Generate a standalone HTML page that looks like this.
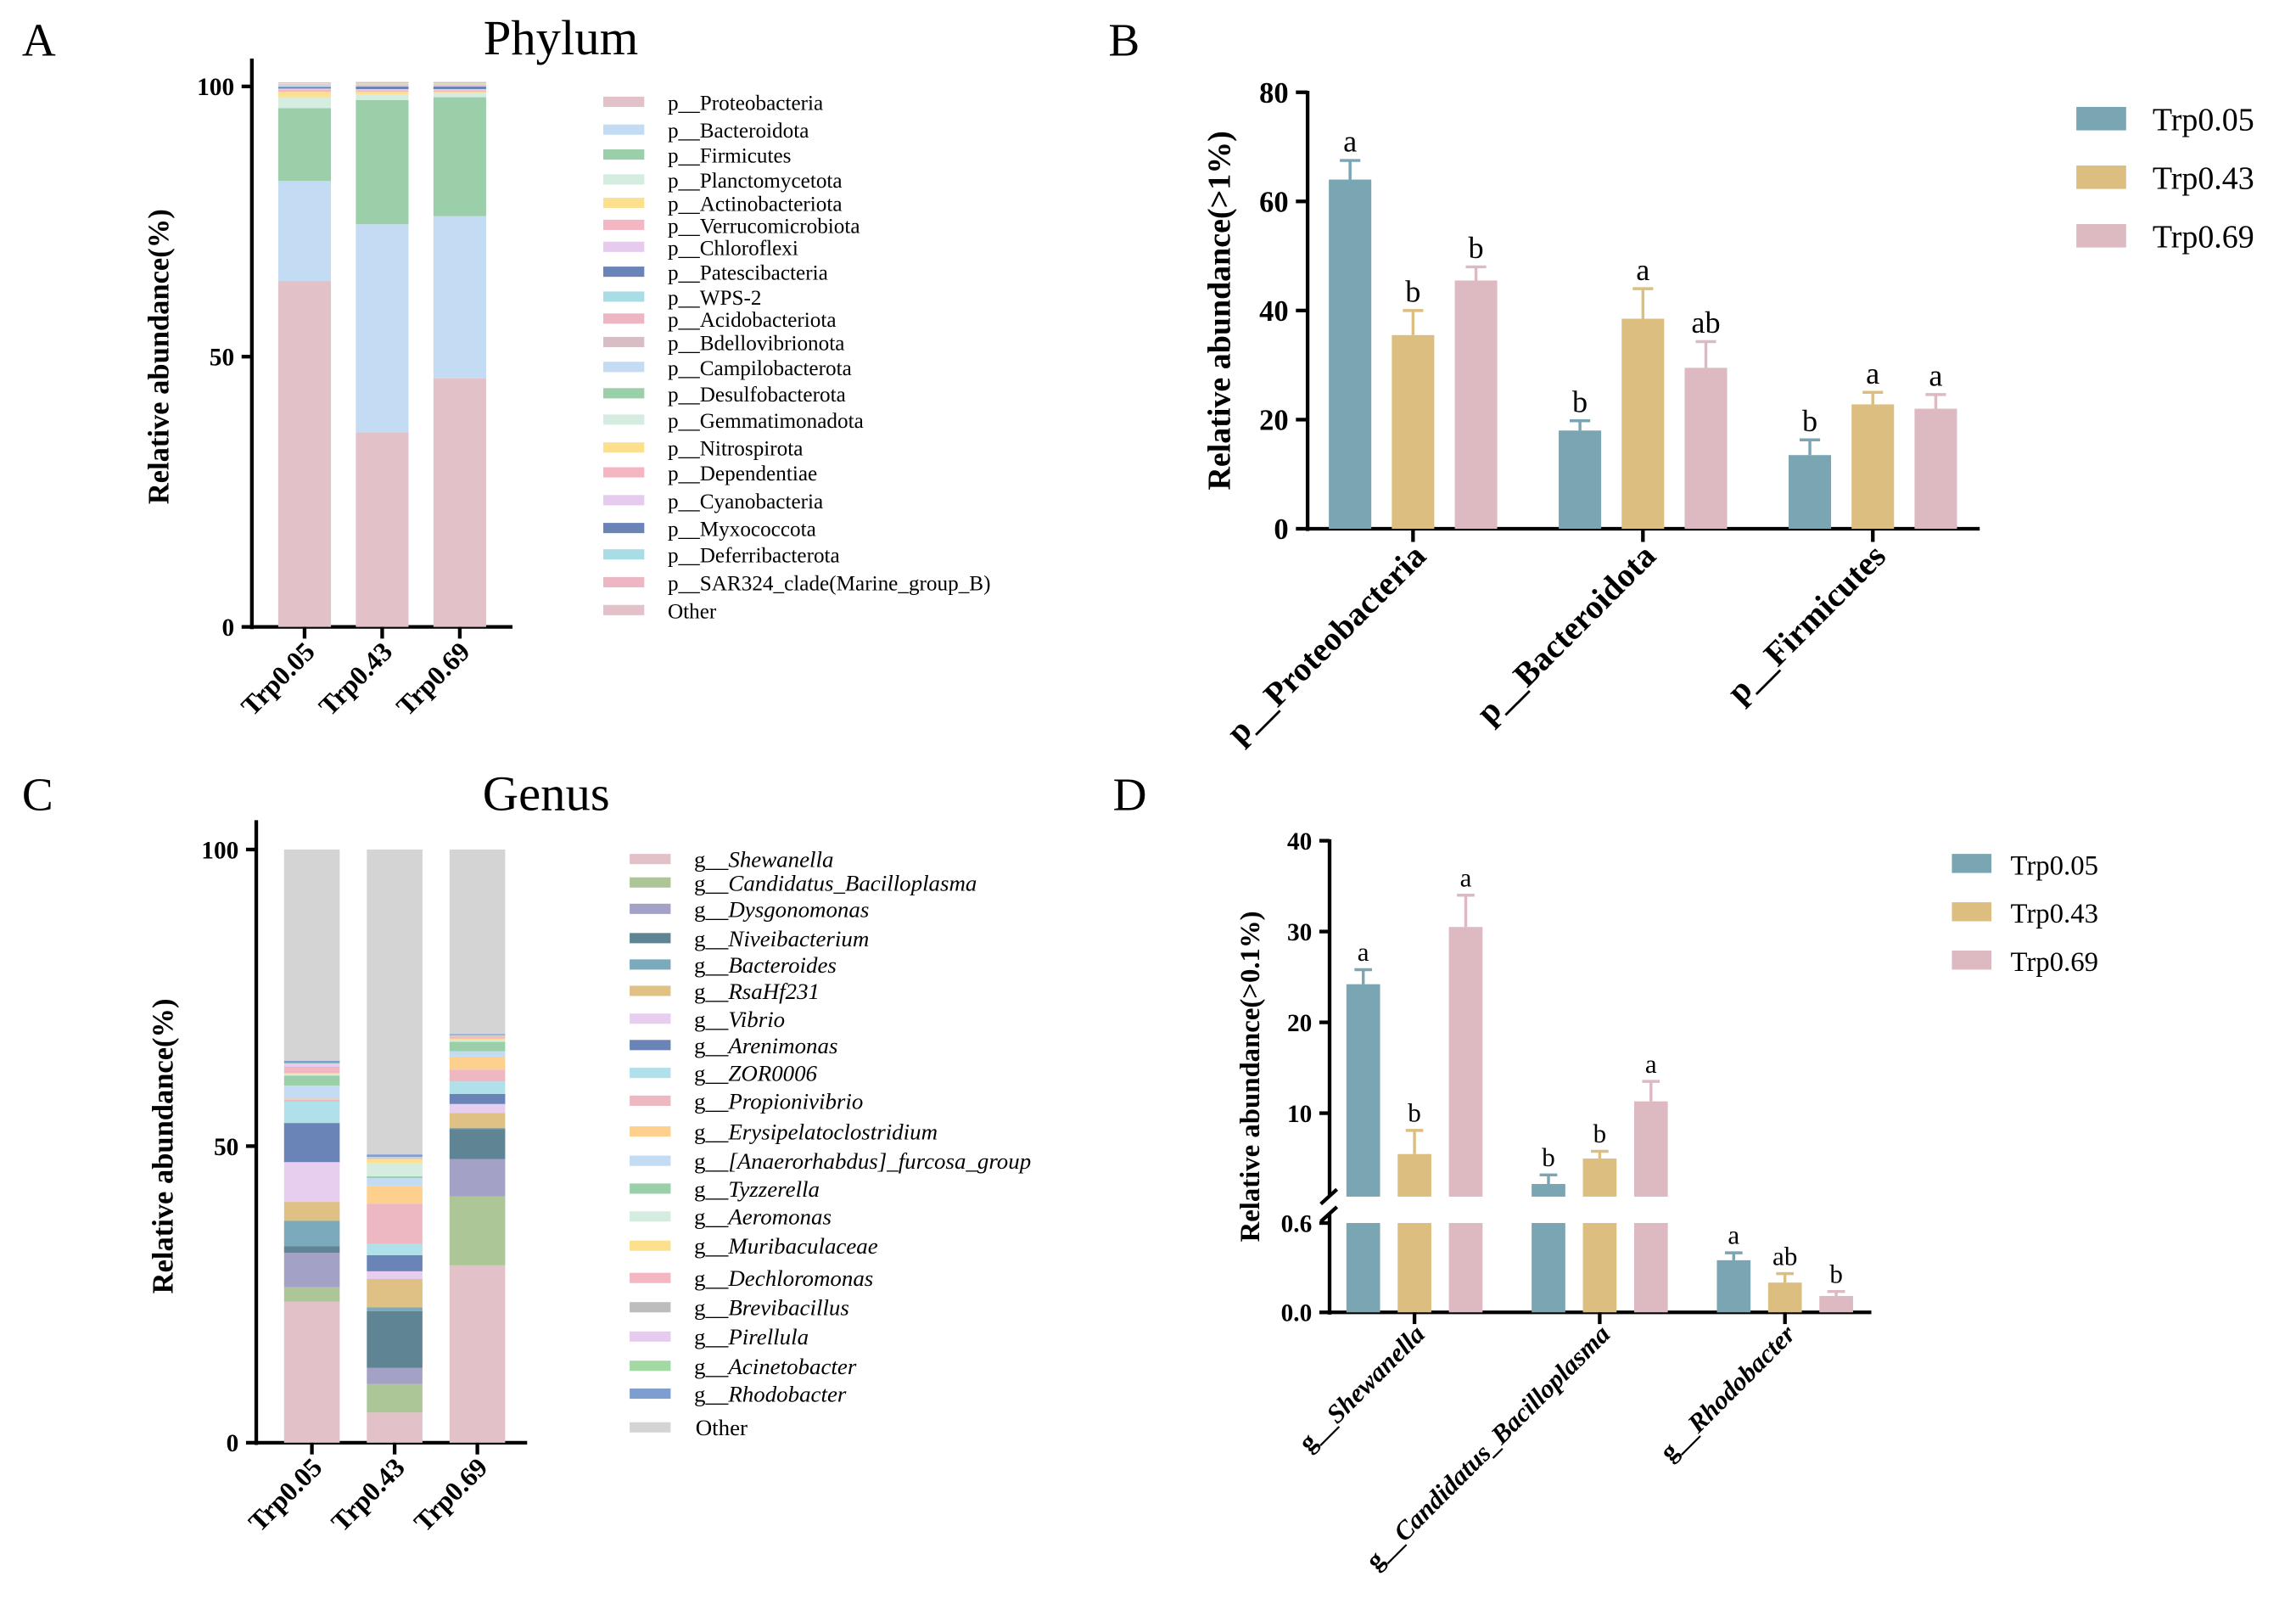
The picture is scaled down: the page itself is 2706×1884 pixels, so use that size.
<!DOCTYPE html>
<html><head><meta charset="utf-8"><style>
html,body{margin:0;padding:0;background:#fff}
svg{display:block}
text{font-family:"Liberation Serif",serif;fill:#000}
</style></head><body>
<svg id="fig" xmlns="http://www.w3.org/2000/svg" width="2706" height="1884" viewBox="0 0 1568 1091.7">
<rect width="1568" height="1092" fill="#fff"/>
</svg>
<script>
const groups=["Trp0.05","Trp0.43","Trp0.69"];
const phylumNames=["p__Proteobacteria","p__Bacteroidota","p__Firmicutes","p__Planctomycetota","p__Actinobacteriota","p__Verrucomicrobiota","p__Chloroflexi","p__Patescibacteria","p__WPS-2","p__Acidobacteriota","p__Bdellovibrionota","p__Campilobacterota","p__Desulfobacterota","p__Gemmatimonadota","p__Nitrospirota","p__Dependentiae","p__Cyanobacteria","p__Myxococcota","p__Deferribacterota","p__SAR324_clade(Marine_group_B)"];
const phylumT1=[64,18.5,13.5,2,1,0.4,0.2,0.3,0.1,0.1,0.1,0.1,0.1,0.05,0.05,0.05,0.05,0.05,0.05,0.05];
const phylumT2=[36,38.5,23,1,0.5,0.3,0.2,0.5,0.1,0.1,0.1,0.1,0.1,0.05,0.05,0.05,0.05,0.05,0.05,0.05];
const phylumT3=[46,30,22,0.7,0.3,0.3,0.2,0.5,0.1,0.1,0.1,0.1,0.1,0.05,0.05,0.05,0.05,0.05,0.05,0.05];
const genusNames=["Shewanella","Candidatus_Bacilloplasma","Dysgonomonas","Niveibacterium","Bacteroides","RsaHf231","Vibrio","Arenimonas","ZOR0006","Propionivibrio","Erysipelatoclostridium","[Anaerorhabdus]_furcosa_group","Tyzzerella","Aeromonas","Muribaculaceae","Dechloromonas","Brevibacillus","Pirellula","Acinetobacter","Rhodobacter"];
const genusT1=[23.8,2.4,5.8,1.1,4.3,3.2,6.7,6.6,3.6,0.3,0.2,2.2,1.7,0.2,0.2,1.0,0.1,0.5,0.1,0.4];
const genusT2=[5.1,4.8,2.7,9.6,0.6,4.8,1.3,2.7,1.9,6.8,3.0,1.3,0.3,2.2,0.7,0.1,0.1,0.1,0.1,0.4];
const genusT3=[29.9,11.6,6.3,5.1,0.2,2.5,1.5,1.7,2.1,2.0,2.2,0.9,1.6,0.2,0.3,0.3,0.1,0.1,0.1,0.2];
const bCats=["p__Proteobacteria","p__Bacteroidota","p__Firmicutes"];
const bMean1=[64,18,13.5],bErr1=[3.5,1.8,2.8],bLet1=["a","b","b"];
const bMean2=[35.5,38.5,22.8],bErr2=[4.5,5.5,2.2],bLet2=["b","a","a"];
const bMean3=[45.5,29.5,22],bErr3=[2.5,4.8,2.6],bLet3=["b","ab","a"];
const bTicks=[0,20,40,60,80];
const dCats=["g__Shewanella","g__Candidatus_Bacilloplasma","g__Rhodobacter"];
const dMean1=[24.2,2.2,0.35],dErr1=[1.6,1.0,0.05],dLet1=["a","b","a"];
const dMean2=[5.5,5.0,0.2],dErr2=[2.6,0.8,0.06],dLet2=["b","b","ab"];
const dMean3=[30.5,11.3,0.11],dErr3=[3.5,2.2,0.03],dLet3=["a","a","b"];
const dTicksUpper=[10,20,30,40],dTicksLower=[0.0,0.6];

const NS="http://www.w3.org/2000/svg";
const svg=document.getElementById('fig');
function el(tag,attrs,parent,txt){const e=document.createElementNS(NS,tag);for(const k in attrs)e.setAttribute(k,attrs[k]);if(txt!==undefined)e.textContent=txt;(parent||svg).appendChild(e);return e;}
const pColors=["#e3c1c8","#c3dcf3","#9bcfaa","#d4ede0","#fde08e","#f4b6c2","#e6cbee","#6a84b8","#a8dde6","#eeb5c2","#d8bec4","#c3dcf3","#9bcfaa","#d4ede0","#fde08e","#f4b6c2","#e6cbee","#6a84b8","#a8dde6","#eeb5c2","#e3c1c8"];
const gColors=["#e3c1c8","#adc698","#a3a2c6","#5f8594","#7aaabb","#dfc085","#e7cdee","#6a84b8","#b0e0ea","#eeb8c2","#fdd08e","#c3dcf3","#9bcfaa","#d4ede0","#fde08e","#f4b6c2","#bdbdbd","#e6cbee","#a3d9a3","#7f9ed0","#d4d4d4"];
const grpColors=["#7aa5b2","#dcbf80","#ddb9c2"];

[["A",15,38],["B",757,38],["C",15,553],["D",760,553]].forEach(([t,x,y])=>{
  const e=el('text',{x:x,y:y,'font-size':32},svg,t);
  
  
});
[["Phylum",383,37],["Genus",373,553]].forEach(([t,x,y])=>{
  const e=el('text',{x:x,y:y,'font-size':34,'text-anchor':'middle'},svg,t);
  
  
});

function stacked(opts){
  const g=el('g',{});
  
  
  const y=v=>opts.y0-(v/100)*(opts.y0-opts.y100);
  el('line',{x1:opts.ax,y1:opts.top,x2:opts.ax,y2:opts.y0+1.5,stroke:'#000','stroke-width':2.5},g);
  el('line',{x1:opts.ax-1,y1:opts.y0,x2:opts.xend,y2:opts.y0,stroke:'#000','stroke-width':2.5},g);
  [0,50,100].forEach(t=>{
    el('line',{x1:opts.ax-7,y1:y(t),x2:opts.ax,y2:y(t),stroke:'#000','stroke-width':2.5},g);
    const tl=el('text',{x:opts.ax-12,y:y(t)+6,'font-size':17,'font-weight':'bold','text-anchor':'end'},g,String(t));
    
    
  });
  const yt=el('text',{transform:`translate(${opts.ax-57},${y(50)}) rotate(-90)`,'font-size':20,'font-weight':'bold','text-anchor':'middle'},g,'Relative abundance(%)');
  
  
  opts.series.forEach((vals,i)=>{
    const cx=opts.x0+i*opts.step;
    let acc=0;
    vals.forEach((v,j)=>{
      const r=el('rect',{x:cx-opts.bw/2,y:y(acc+v),width:opts.bw,height:Math.max(0,y(acc)-y(acc+v)),fill:opts.colors[j]},g);
      
      
      acc+=v;
    });
    const r=el('rect',{x:cx-opts.bw/2,y:y(100),width:opts.bw,height:y(acc)-y(100),fill:opts.colors[opts.colors.length-1]},g);
    
    
    el('line',{x1:cx,y1:opts.y0,x2:cx,y2:opts.y0+8,stroke:'#000','stroke-width':2.5},g);
    const xl=el('text',{transform:`translate(${cx+8},${opts.y0+18}) rotate(-45)`,'font-size':18.5,'font-weight':'bold','text-anchor':'end'},g,groups[i]);
    
    
  });
  const lg=el('g',{},g);
  
  
  const labels=opts.legendNames.concat(["Other"]);
  labels.forEach((n,j)=>{
    const ly=opts.legY[j];
    const it=el('g',{},lg);
    
    
    el('rect',{x:opts.lx,y:ly-4,width:28,height:7,fill:opts.colors[j]},it);
    if(opts.italic && j<labels.length-1){
      const t=el('text',{x:opts.lx+44,y:ly+5,'font-size':opts.fs},it);
      el('tspan',{},t,'g__');
      el('tspan',{'font-style':'italic'},t,n);
    } else el('text',{x:opts.lx+(opts.italic?45:44),y:ly+5,'font-size':opts.fs},it,n);
  });
}
stacked({name:'phylum-stacked-chart',ax:172,top:40,y0:428,y100:59,xend:350,x0:208,step:53,bw:36,
  series:[phylumT1,phylumT2,phylumT3],colors:pColors,names:phylumNames,legendNames:phylumNames,
  lx:412,legY:[70,89,106,123,139,154,169,186,203,218,234,251,269,287,306,323,342,361,379,398,417],fs:14.6,italic:false});
stacked({name:'genus-stacked-chart',ax:175,top:560,y0:985,y100:580,xend:360,x0:213,step:56.5,bw:38,
  series:[genusT1,genusT2,genusT3],colors:gColors,names:genusNames,legendNames:genusNames,
  lx:430,legY:[587,603,621,641,659,677,696,714,733,752,773,793,812,831,851,873,893,913,933,952,975],fs:15.6,italic:true});

(function(){
  const g=el('g',{});
  
  
  const ax=893,y0=361,ytop=63,vmax=80;
  const y=v=>y0-v/vmax*(y0-ytop);
  el('line',{x1:ax,y1:ytop-1,x2:ax,y2:y0+1.5,stroke:'#000','stroke-width':2.5},g);
  el('line',{x1:ax-1,y1:y0,x2:1352,y2:y0,stroke:'#000','stroke-width':2.5},g);
  bTicks.forEach(t=>{
    el('line',{x1:ax-8,y1:y(t),x2:ax,y2:y(t),stroke:'#000','stroke-width':2.5},g);
    const tl=el('text',{x:ax-13,y:y(t)+7,'font-size':20,'font-weight':'bold','text-anchor':'end'},g,String(t));
    
    
  });
  const yt=el('text',{transform:`translate(840,212) rotate(-90)`,'font-size':22,'font-weight':'bold','text-anchor':'middle'},g,'Relative abundance(>1%)');
  
  
  const means=[bMean1,bMean2,bMean3],errs=[bErr1,bErr2,bErr3],lets=[bLet1,bLet2,bLet3];
  bCats.forEach((c,i)=>{
    const gc=965+i*157;
    means.forEach((m,k)=>{
      const cx=gc+(k-1)*43,bw=29;
      const r=el('rect',{x:cx-bw/2,y:y(m[i]),width:bw,height:y0-y(m[i]),fill:grpColors[k]},g);
      
      
      const ye=y(m[i]+errs[k][i]);
      el('line',{x1:cx,y1:y(m[i]),x2:cx,y2:ye,stroke:grpColors[k],'stroke-width':2},g);
      el('line',{x1:cx-7,y1:ye,x2:cx+7,y2:ye,stroke:grpColors[k],'stroke-width':2},g);
      const lt=el('text',{x:cx,y:ye-6,'font-size':21,'text-anchor':'middle'},g,lets[k][i]);
      
      
    });
    el('line',{x1:gc,y1:y0,x2:gc,y2:y0+9,stroke:'#000','stroke-width':2.5},g);
    const xl=el('text',{transform:`translate(${gc+10},${y0+20}) rotate(-45)`,'font-size':23,'font-weight':'bold','text-anchor':'end'},g,c);
    
    
  });
  const lg=el('g',{},g);
  
  
  groups.forEach((n,k)=>{
    const it=el('g',{},lg);
    
    
    el('rect',{x:1418,y:73+k*40,width:34,height:16,fill:grpColors[k]},it);
    el('text',{x:1470,y:89+k*40,'font-size':22},it,n);
  });
})();

(function(){
  const g=el('g',{});
  
  
  const ax=908,y0=896;
  const yL=v=>y0-v/0.6*61;
  const yU=v=>760-(v-10)*6.2;
  const uBot=817,lTop=835;
  el('line',{x1:ax,y1:573,x2:ax,y2:uBot,stroke:'#000','stroke-width':2.5},g);
  el('line',{x1:ax,y1:829,x2:ax,y2:y0+1.5,stroke:'#000','stroke-width':2.5},g);
  el('line',{x1:ax-6,y1:822,x2:ax+5,y2:812,stroke:'#000','stroke-width':2.5},g);
  el('line',{x1:ax-6,y1:834,x2:ax+5,y2:824,stroke:'#000','stroke-width':2.5},g);
  el('line',{x1:ax-1,y1:y0,x2:1278,y2:y0,stroke:'#000','stroke-width':2.5},g);
  dTicksUpper.forEach(t=>{
    el('line',{x1:ax-7,y1:yU(t),x2:ax,y2:yU(t),stroke:'#000','stroke-width':2.5},g);
    const tl=el('text',{x:ax-12,y:yU(t)+6,'font-size':17,'font-weight':'bold','text-anchor':'end'},g,String(t));
    
    
  });
  dTicksLower.forEach(t=>{
    el('line',{x1:ax-7,y1:yL(t),x2:ax,y2:yL(t),stroke:'#000','stroke-width':2.5},g);
    const tl=el('text',{x:ax-12,y:yL(t)+6,'font-size':17,'font-weight':'bold','text-anchor':'end'},g,t.toFixed(1));
    
    
  });
  const yt=el('text',{transform:`translate(860,735) rotate(-90)`,'font-size':19,'font-weight':'bold','text-anchor':'middle'},g,'Relative abundance(>0.1%)');
  
  
  const means=[dMean1,dMean2,dMean3],errs=[dErr1,dErr2,dErr3],lets=[dLet1,dLet2,dLet3];
  const yv=v=>v>0.6?yU(v):yL(v);
  dCats.forEach((c,i)=>{
    const gc=966+i*126.5;
    means.forEach((m,k)=>{
      const cx=gc+(k-1)*35,bw=23,v=m[i];
      const bg=el('g',{},g);
      
      
      if(v>0.6){
        el('rect',{x:cx-bw/2,y:lTop,width:bw,height:y0-lTop,fill:grpColors[k]},bg);
        const top=yU(v);
        el('rect',{x:cx-bw/2,y:top,width:bw,height:Math.max(0,uBot-top),fill:grpColors[k]},bg);
      } else {
        el('rect',{x:cx-bw/2,y:yL(v),width:bw,height:y0-yL(v),fill:grpColors[k]},bg);
      }
      const ye=yv(v+errs[k][i]);
      el('line',{x1:cx,y1:yv(v),x2:cx,y2:ye,stroke:grpColors[k],'stroke-width':2},g);
      el('line',{x1:cx-6,y1:ye,x2:cx+6,y2:ye,stroke:grpColors[k],'stroke-width':2},g);
      const lt=el('text',{x:cx,y:ye-6,'font-size':18,'text-anchor':'middle'},g,lets[k][i]);
      
      
    });
    el('line',{x1:gc,y1:y0,x2:gc,y2:y0+8,stroke:'#000','stroke-width':2.5},g);
    const xl=el('text',{transform:`translate(${gc+8},${y0+16}) rotate(-45)`,'font-size':18,'font-weight':'bold','text-anchor':'end'},g);
    
    
    el('tspan',{},xl,'g__');
    el('tspan',{'font-style':'italic'},xl,c.slice(3));
  });
  const lg=el('g',{},g);
  
  
  groups.forEach((n,k)=>{
    const it=el('g',{},lg);
    
    
    el('rect',{x:1333,y:583+k*33,width:27,height:13,fill:grpColors[k]},it);
    el('text',{x:1373,y:597+k*33,'font-size':19},it,n);
  });
})();
</script>
</body></html>
